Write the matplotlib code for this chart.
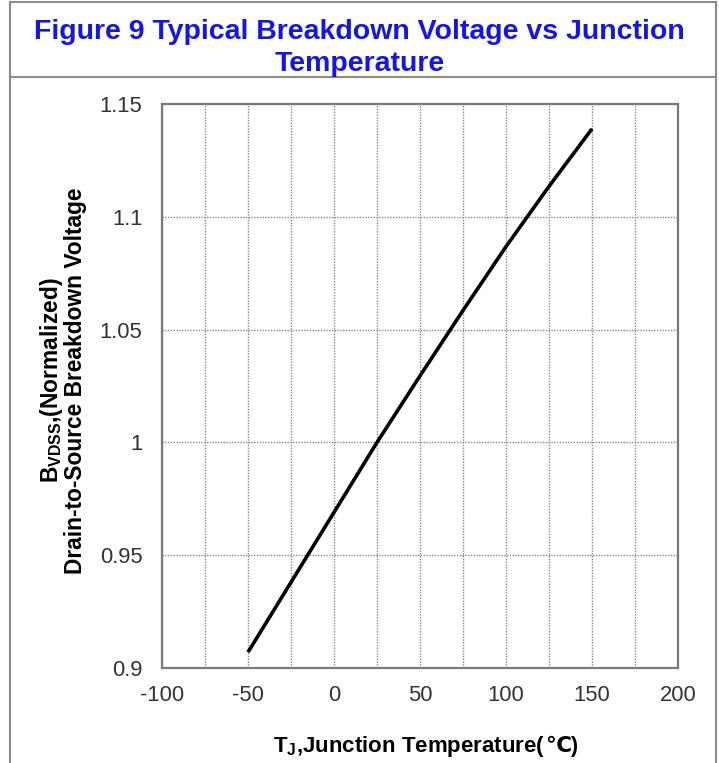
import matplotlib.pyplot as plt
from matplotlib.lines import Line2D

# data
temp_c = [-50, -25, 0, 25, 50, 75, 100, 125, 150]
bvdss_norm = [0.907, 0.938, 0.969, 1.0, 1.0295, 1.0585, 1.0868, 1.1135, 1.139]

x_ticks = [-100, -50, 0, 50, 100, 150, 200]
y_ticks = [0.9, 0.95, 1.0, 1.05, 1.1, 1.15]
y_tick_labels = ['0.9', '0.95', '1', '1.05', '1.1', '1.15']

plt.rcParams['font.family'] = ['Liberation Sans', 'DejaVu Sans']
plt.rcParams['axes.unicode_minus'] = False

fig = plt.figure(figsize=(7.19, 7.63), dpi=100)
ax = fig.add_axes([0.2253, 0.1245, 0.7177, 0.7392])

ax.plot(temp_c, bvdss_norm, color='black', linewidth=2.6, solid_capstyle='butt')

ax.set_xlim(-100, 200)
ax.set_ylim(0.9, 1.15)
ax.set_xticks(x_ticks)
ax.set_yticks(y_ticks)
ax.set_yticklabels(y_tick_labels)
ax.set_xticks(range(-75, 200, 25), minor=True)
ax.grid(True, which='both', axis='x', color='#8a8a8a', linestyle=(0, (1, 1)), linewidth=1.0)
ax.grid(True, which='major', axis='y', color='#8a8a8a', linestyle=(0, (1, 1)), linewidth=1.0)
ax.tick_params(axis='both', which='both', length=0, labelsize=15.8, colors='#333333')
ax.tick_params(axis='y', pad=14)
ax.tick_params(axis='x', pad=12)
for s in ax.spines.values():
    s.set_color('#7a7a7a')
    s.set_linewidth(1.6)

ax.set_ylabel('B$_\\mathregular{VDSS}$,(Normalized)\nDrain-to-Source Breakdown Voltage',
              fontsize=16.4, fontweight='bold', linespacing=0.9)
ax.yaxis.set_label_coords(-0.146, 0.51)

# x label in two pieces so the degree sign can fall back to DejaVu
xl = fig.text(0.38, 0.0144, r'T$_\mathregular{J}$,Junction Temperature(',
              ha='left', va='baseline', fontsize=16, fontweight='bold')
fig.add_artist(plt.Annotation('℃)', xy=(1, 0), xycoords=xl, xytext=(0, 1.5),
                              textcoords='offset points', ha='left', va='bottom',
                              fontsize=15.5, fontweight='bold'))

fig.text(0.5, 0.937, 'Figure 9 Typical Breakdown Voltage vs Junction\nTemperature',
         ha='center', va='center', color='#1414f0', fontsize=20.5, fontweight='bold',
         linespacing=1.3)

# table frame around the chart
for y in [0.997, 0.899]:
    fig.add_artist(Line2D([0.014, 0.996], [y, y], color='#8c8c8c', linewidth=1.5))
for x in [0.014, 0.996]:
    fig.add_artist(Line2D([x, x], [0, 0.997], color='#8c8c8c', linewidth=1.5))

fig.savefig('out.png', dpi=100)
